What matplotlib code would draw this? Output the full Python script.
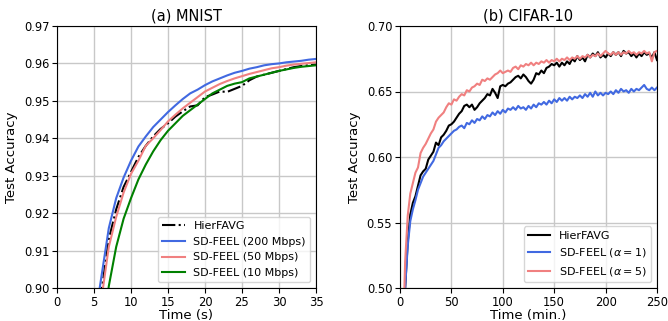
import numpy as np
import matplotlib
matplotlib.use('Agg')
import matplotlib.pyplot as plt

# (a) MNIST
mnist_t = [4.0, 5.0, 6.0, 7.0, 8.0, 9.0, 10.0, 11.0, 12.0, 13.0, 14.0, 15.0, 16.0, 17.0, 18.0,
           19.0, 20.0, 21.0, 22.0, 23.0, 24.0, 25.0, 26.0, 27.0, 28.0, 29.0, 30.0, 31.0, 32.0,
           33.0, 34.0, 35.0]
hier_mnist = [0.870, 0.885, 0.899, 0.913, 0.921, 0.927, 0.931, 0.935, 0.938, 0.9405, 0.9425,
              0.944, 0.9458, 0.9472, 0.9485, 0.9488, 0.951, 0.9517, 0.9525, 0.9524, 0.9532,
              0.954, 0.9555, 0.9565, 0.957, 0.9575, 0.958, 0.9585, 0.959, 0.9593, 0.9595, 0.9597]
sd200 = [0.875, 0.890, 0.903, 0.916, 0.924, 0.9295, 0.934, 0.9378, 0.9405, 0.943, 0.945,
         0.947, 0.9488, 0.9505, 0.952, 0.953, 0.9542, 0.9552, 0.956, 0.9568, 0.9575, 0.958,
         0.9586, 0.959, 0.9595, 0.9598, 0.960, 0.9603, 0.9605, 0.9607, 0.961, 0.9612]
sd50 = [0.868, 0.882, 0.897, 0.911, 0.919, 0.9255, 0.9305, 0.934, 0.938, 0.940, 0.9422,
        0.9445, 0.9463, 0.948, 0.9495, 0.951, 0.9525, 0.9535, 0.9545, 0.9553, 0.956, 0.9566,
        0.9572, 0.9577, 0.9582, 0.9587, 0.959, 0.9594, 0.9597, 0.9599, 0.9601, 0.9603]
sd10 = [0.855, 0.870, 0.885, 0.9005, 0.911, 0.9185, 0.924, 0.929, 0.933, 0.9365, 0.9395,
        0.942, 0.944, 0.946, 0.9475, 0.949, 0.9505, 0.952, 0.953, 0.954, 0.9546, 0.955,
        0.956, 0.9565, 0.957, 0.9575, 0.958, 0.9584, 0.9588, 0.9591, 0.9593, 0.9595]

# (b) CIFAR-10, one value every 2.5 min
cifar_t = np.arange(2.5, 250.01, 2.5)
hier_cifar = [0.45, 0.50, 0.535, 0.556, 0.565, 0.570, 0.578, 0.586, 0.589, 0.591, 0.598, 0.601,
              0.604, 0.611, 0.609, 0.615, 0.617, 0.620, 0.624, 0.625, 0.627, 0.630, 0.633, 0.635,
              0.639, 0.640, 0.638, 0.640, 0.636, 0.638, 0.641, 0.643, 0.645, 0.648, 0.647, 0.652,
              0.649, 0.645, 0.654, 0.655, 0.654, 0.656, 0.657, 0.659, 0.661, 0.662, 0.660, 0.663,
              0.661, 0.658, 0.656, 0.659, 0.664, 0.663, 0.666, 0.664, 0.668, 0.669, 0.671, 0.670,
              0.672, 0.669, 0.672, 0.670, 0.673, 0.671, 0.675, 0.673, 0.677, 0.674, 0.676, 0.673,
              0.678, 0.676, 0.679, 0.677, 0.680, 0.676, 0.678, 0.676, 0.679, 0.677, 0.680, 0.678,
              0.680, 0.677, 0.681, 0.679, 0.680, 0.677, 0.679, 0.676, 0.679, 0.677, 0.680, 0.678,
              0.679, 0.676, 0.680, 0.674]
alpha1 = [0.45, 0.50, 0.532, 0.551, 0.560, 0.567, 0.575, 0.580, 0.585, 0.588, 0.591, 0.594,
          0.597, 0.602, 0.607, 0.609, 0.612, 0.614, 0.616, 0.618, 0.620, 0.621, 0.623, 0.624,
          0.622, 0.626, 0.625, 0.628, 0.626, 0.629, 0.628, 0.631, 0.629, 0.632, 0.631, 0.634,
          0.632, 0.635, 0.633, 0.636, 0.634, 0.637, 0.636, 0.638, 0.636, 0.639, 0.637, 0.638,
          0.636, 0.639, 0.637, 0.640, 0.638, 0.641, 0.640, 0.642, 0.640, 0.643, 0.641, 0.644,
          0.642, 0.645, 0.643, 0.645, 0.643, 0.646, 0.644, 0.646, 0.645, 0.647, 0.645, 0.648,
          0.646, 0.649, 0.646, 0.650, 0.647, 0.649, 0.647, 0.649, 0.648, 0.650, 0.648, 0.651,
          0.649, 0.652, 0.650, 0.651, 0.649, 0.652, 0.650, 0.652, 0.651, 0.653, 0.655, 0.652,
          0.651, 0.653, 0.651, 0.653]
alpha5 = [0.45, 0.52, 0.555, 0.572, 0.580, 0.588, 0.592, 0.603, 0.607, 0.610, 0.614, 0.618,
          0.621, 0.627, 0.630, 0.632, 0.634, 0.638, 0.641, 0.640, 0.644, 0.643, 0.646, 0.648,
          0.647, 0.651, 0.650, 0.653, 0.654, 0.656, 0.655, 0.659, 0.658, 0.660, 0.659, 0.661,
          0.663, 0.664, 0.666, 0.664, 0.665, 0.666, 0.665, 0.668, 0.669, 0.667, 0.670, 0.669,
          0.671, 0.670, 0.672, 0.670, 0.672, 0.671, 0.673, 0.672, 0.674, 0.672, 0.674, 0.673,
          0.675, 0.673, 0.675, 0.674, 0.676, 0.674, 0.676, 0.675, 0.677, 0.675, 0.677, 0.676,
          0.678, 0.676, 0.678, 0.677, 0.679, 0.677, 0.679, 0.681, 0.679, 0.678, 0.680, 0.678,
          0.680, 0.678, 0.680, 0.679, 0.681, 0.679, 0.680, 0.678, 0.680, 0.679, 0.681, 0.679,
          0.680, 0.673, 0.680, 0.681]

fig = plt.figure(figsize=(6.68, 3.21), dpi=100)
ax1 = fig.add_axes([57 / 668, 33 / 321, 259 / 668, 262 / 321])
ax2 = fig.add_axes([400 / 668, 33 / 321, 257 / 668, 262 / 321])

ax1.plot(mnist_t, hier_mnist, color='black', ls='-.', lw=1.5, label='HierFAVG')
ax1.plot(mnist_t, sd200, color='royalblue', lw=1.5, label='SD-FEEL (200 Mbps)')
ax1.plot(mnist_t, sd50, color='lightcoral', lw=1.5, label='SD-FEEL (50 Mbps)')
ax1.plot(mnist_t, sd10, color='green', lw=1.5, label='SD-FEEL (10 Mbps)')
ax1.set_xlim(0, 35)
ax1.set_ylim(0.90, 0.97)
ax1.set_xticks(range(0, 36, 5))
ax1.set_yticks(np.arange(0.90, 0.971, 0.01))
ax1.set_xlabel('Time (s)', fontsize=9.5, labelpad=0)
ax1.set_ylabel('Test Accuracy', fontsize=9.5, labelpad=4)
ax1.set_title('(a) MNIST', fontsize=10.5, pad=4)
ax1.legend(loc='lower right', fontsize=8)

ax2.plot(cifar_t, hier_cifar, color='black', lw=1.5, label='HierFAVG')
ax2.plot(cifar_t, alpha1, color='royalblue', lw=1.5, label=r'SD-FEEL ($\alpha=1$)')
ax2.plot(cifar_t, alpha5, color='lightcoral', lw=1.5, label=r'SD-FEEL ($\alpha=5$)')
ax2.set_xlim(0, 250)
ax2.set_ylim(0.50, 0.70)
ax2.set_xticks(range(0, 251, 50))
ax2.set_yticks(np.arange(0.50, 0.701, 0.05))
ax2.set_xlabel('Time (min.)', fontsize=9.5, labelpad=0)
ax2.set_ylabel('Test Accuracy', fontsize=9.5, labelpad=4)
ax2.set_title('(b) CIFAR-10', fontsize=10.5, pad=4)
ax2.legend(loc='lower right', fontsize=8)

for ax in (ax1, ax2):
    ax.grid(True, color='#c8c8c8', lw=1.0)
    ax.tick_params(labelsize=8.3, pad=2)

fig.savefig('out.png', dpi=100)
